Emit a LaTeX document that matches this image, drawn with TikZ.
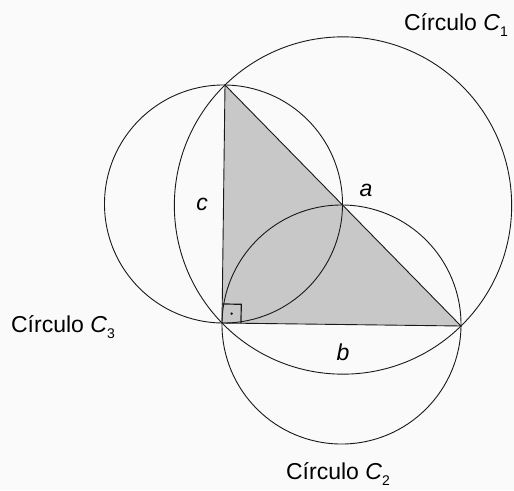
\documentclass[tikz,border=0pt]{standalone}
\usepackage{fontspec}
\setmainfont{Liberation Sans}
\usepackage{tikz}
\usetikzlibrary{
    calc,
    positioning
}
\definecolor{triGray}{RGB}{200,200,200}
\definecolor{lineDark}{RGB}{25,25,25}
\definecolor{bgLight}{RGB}{250,250,250}
\tikzset{
  circ/.style  = {draw=lineDark, line width=0.9pt},
  side/.style  = {draw=lineDark, line width=0.9pt},
  lbl/.style   = {font=\fontsize{23}{27}\selectfont, inner sep=0pt},
  cname/.style = {font=\fontsize{23}{27}\selectfont, inner sep=0pt}
}
\newcommand{\circname}[1]{C\'{\i}rculo \textit{C}\raisebox{-0.55ex}{\fontsize{14}{14}\selectfont #1}}

\begin{document}
\begin{tikzpicture}[x=1pt, y=-1pt]
    \fill[bgLight] (0,0) rectangle (514,490);
    \useasboundingbox (0,0) rectangle (514,490);
    % vertices
    \coordinate (A) at (225,85);
    \coordinate (R) at (222,323);
    \coordinate (B) at (461,326);
    \coordinate (mAB) at ($(A)!0.5!(B)$);
    \coordinate (mAR) at ($(A)!0.5!(R)$);
    \coordinate (mRB) at ($(R)!0.5!(B)$);
    % triangle
    \fill[triGray] (A) -- (R) -- (B) -- cycle;
    \draw[side] (A) -- (R) -- (B) -- cycle;
    % right angle mark
    \coordinate (rA) at ($(R)!19pt!(A)$);
    \coordinate (rB) at ($(R)!19pt!(B)$);
    \coordinate (rC) at ($(rA)+(rB)-(R)$);
    \draw[side, line width=1.2pt] (rA) -- (rC) -- (rB);
    \fill[lineDark] ($(R)!0.5!(rC)$) circle (1.3pt);
    % circles on the sides
    \draw[circ] let \p1 = ($(B)-(mAB)$) in (mAB) circle ({veclen(\x1,\y1)});
    \draw[circ] let \p1 = ($(A)-(mAR)$) in (mAR) circle ({veclen(\x1,\y1)});
    \draw[circ] let \p1 = ($(B)-(mRB)$) in (mRB) circle ({veclen(\x1,\y1)});
    % labels
    \node[lbl] (la) at (366,190) {\textit{a}};
    \node[lbl] (lb) at (343,352) {\textit{b}};
    \node[lbl] (lc) at (202,204) {\textit{c}};
    \node[cname] (c1) at (456,25) {\circname{1}};
    \node[cname] (c3) at (63,327) {\circname{3}};
    \node[cname] (c2) at (338,474) {\circname{2}};
\end{tikzpicture}
\end{document}
